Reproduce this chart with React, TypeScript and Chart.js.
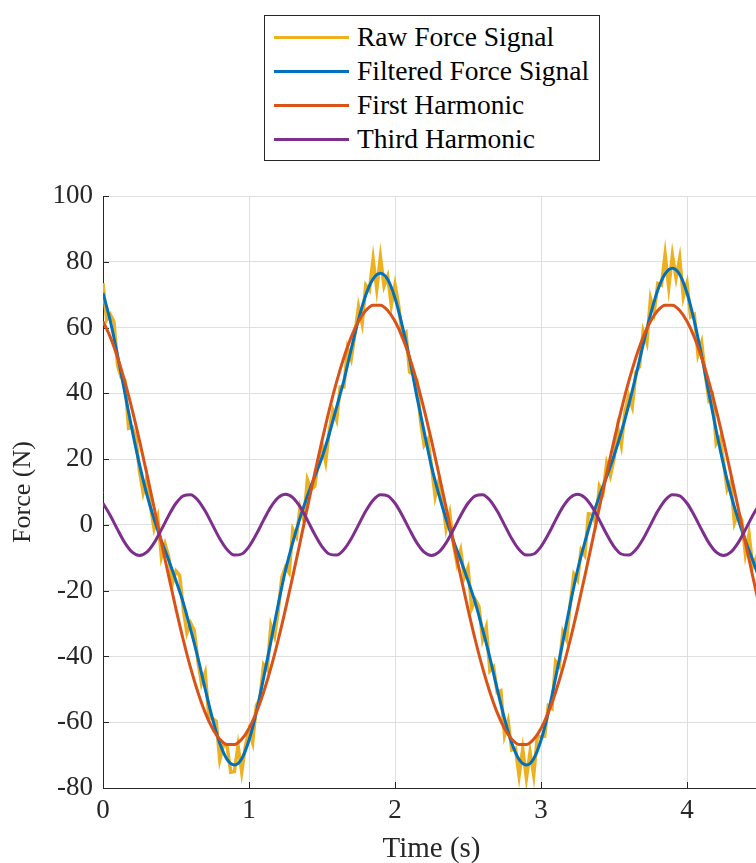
import React, { useEffect, useRef } from "react";
import { Chart, registerables } from "chart.js";

Chart.register(...registerables);

// ---- Data ----
const timeSmooth = [
  0, 0.05, 0.1, 0.15, 0.2, 0.25, 0.3, 0.35, 0.4, 0.45,
  0.5, 0.55, 0.6, 0.65, 0.7, 0.75, 0.8, 0.85, 0.9, 0.95,
  1, 1.05, 1.1, 1.15, 1.2, 1.25, 1.3, 1.35, 1.4, 1.45,
  1.5, 1.55, 1.6, 1.65, 1.7, 1.75, 1.8, 1.85, 1.9, 1.95,
  2, 2.05, 2.1, 2.15, 2.2, 2.25, 2.3, 2.35, 2.4, 2.45,
  2.5, 2.55, 2.6, 2.65, 2.7, 2.75, 2.8, 2.85, 2.9, 2.95,
  3, 3.05, 3.1, 3.15, 3.2, 3.25, 3.3, 3.35, 3.4, 3.45,
  3.5, 3.55, 3.6, 3.65, 3.7, 3.75, 3.8, 3.85, 3.9, 3.95,
  4, 4.05, 4.1, 4.15, 4.2, 4.25, 4.3, 4.35, 4.4, 4.45,
  4.5,
];

const filteredForce = [
  70.5, 62.0, 51.5, 40.0, 28.7, 18.3, 9.3, 1.8, -4.8, -10.7,
  -17.0, -23.7, -31.8, -40.4, -49.9, -58.9, -66.4, -71.3, -73.0, -71.1,
  -65.5, -57.0, -46.5, -35.5, -24.2, -13.8, -5.3, 2.2, 8.8, 14.7,
  20.5, 27.7, 35.8, 43.9, 53.4, 62.4, 69.9, 74.8, 76.5, 74.6,
  69.0, 60.5, 50.5, 39.0, 28.2, 17.8, 9.3, 1.8, -4.8, -10.7,
  -17.0, -23.7, -31.8, -40.4, -49.9, -58.9, -66.4, -71.3, -73.0, -71.1,
  -65.5, -57.0, -46.5, -35.5, -24.2, -13.8, -5.3, 2.2, 8.8, 14.7,
  21.0, 28.2, 36.3, 45.4, 54.9, 63.9, 71.4, 76.3, 78.0, 76.1,
  70.5, 62.0, 51.5, 40.0, 28.7, 18.3, 9.3, 1.8, -4.8, -10.7,
  -17.0,
];

const firstHarmonic = [
  61.9, 57.1, 50.9, 43.5, 35.0, 25.6, 15.6, 5.3, -5.3, -15.6,
  -25.6, -35.0, -43.5, -50.9, -57.1, -61.9, -65.2, -66.8, -66.8, -65.2,
  -61.9, -57.1, -50.9, -43.5, -35.0, -25.6, -15.6, -5.3, 5.3, 15.6,
  25.6, 35.0, 43.5, 50.9, 57.1, 61.9, 65.2, 66.8, 66.8, 65.2,
  61.9, 57.1, 50.9, 43.5, 35.0, 25.6, 15.6, 5.3, -5.3, -15.6,
  -25.6, -35.0, -43.5, -50.9, -57.1, -61.9, -65.2, -66.8, -66.8, -65.2,
  -61.9, -57.1, -50.9, -43.5, -35.0, -25.6, -15.6, -5.3, 5.3, 15.6,
  25.6, 35.0, 43.5, 50.9, 57.1, 61.9, 65.2, 66.8, 66.8, 65.2,
  61.9, 57.1, 50.9, 43.5, 35.0, 25.6, 15.6, 5.3, -5.3, -15.6,
  -25.6,
];

const thirdHarmonic = [
  6.58, 2.87, -1.45, -5.47, -8.29, -9.3, -8.29, -5.47, -1.45, 2.87,
  6.58, 8.85, 9.19, 7.52, 4.22, 0, -4.22, -7.52, -9.19, -8.85,
  -6.58, -2.87, 1.45, 5.47, 8.29, 9.3, 8.29, 5.47, 1.45, -2.87,
  -6.58, -8.85, -9.19, -7.52, -4.22, 0, 4.22, 7.52, 9.19, 8.85,
  6.58, 2.87, -1.45, -5.47, -8.29, -9.3, -8.29, -5.47, -1.45, 2.87,
  6.58, 8.85, 9.19, 7.52, 4.22, 0, -4.22, -7.52, -9.19, -8.85,
  -6.58, -2.87, 1.45, 5.47, 8.29, 9.3, 8.29, 5.47, 1.45, -2.87,
  -6.58, -8.85, -9.19, -7.52, -4.22, 0, 4.22, 7.52, 9.19, 8.85,
  6.58, 2.87, -1.45, -5.47, -8.29, -9.3, -8.29, -5.47, -1.45, 2.87,
  6.58,
];

const timeRaw = [
  0, 0.025, 0.05, 0.075, 0.1, 0.125, 0.15, 0.175, 0.2, 0.225,
  0.25, 0.275, 0.3, 0.325, 0.35, 0.375, 0.4, 0.425, 0.45, 0.475,
  0.5, 0.525, 0.55, 0.575, 0.6, 0.625, 0.65, 0.675, 0.7, 0.725,
  0.75, 0.775, 0.8, 0.825, 0.85, 0.875, 0.9, 0.925, 0.95, 0.975,
  1, 1.025, 1.05, 1.075, 1.1, 1.125, 1.15, 1.175, 1.2, 1.225,
  1.25, 1.275, 1.3, 1.325, 1.35, 1.375, 1.4, 1.425, 1.45, 1.475,
  1.5, 1.525, 1.55, 1.575, 1.6, 1.625, 1.65, 1.675, 1.7, 1.725,
  1.75, 1.775, 1.8, 1.825, 1.85, 1.875, 1.9, 1.925, 1.95, 1.975,
  2, 2.025, 2.05, 2.075, 2.1, 2.125, 2.15, 2.175, 2.2, 2.225,
  2.25, 2.275, 2.3, 2.325, 2.35, 2.375, 2.4, 2.425, 2.45, 2.475,
  2.5, 2.525, 2.55, 2.575, 2.6, 2.625, 2.65, 2.675, 2.7, 2.725,
  2.75, 2.775, 2.8, 2.825, 2.85, 2.875, 2.9, 2.925, 2.95, 2.975,
  3, 3.025, 3.05, 3.075, 3.1, 3.125, 3.15, 3.175, 3.2, 3.225,
  3.25, 3.275, 3.3, 3.325, 3.35, 3.375, 3.4, 3.425, 3.45, 3.475,
  3.5, 3.525, 3.55, 3.575, 3.6, 3.625, 3.65, 3.675, 3.7, 3.725,
  3.75, 3.775, 3.8, 3.825, 3.85, 3.875, 3.9, 3.925, 3.95, 3.975,
  4, 4.025, 4.05, 4.075, 4.1, 4.125, 4.15, 4.175, 4.2, 4.225,
  4.25, 4.275, 4.3, 4.325, 4.35, 4.375, 4.4, 4.425, 4.45, 4.475,
  4.5,
];

const rawForce = [
  73.5, 62.3, 64.0, 61.8, 48.5, 44.8, 44.0, 29.4, 29.7, 26.5,
  16.3, 9.8, 14.3, 5.6, -1.2, 2.5, -9.8, -5.8, -9.7, -17.9,
  -14.0, -15.4, -25.7, -32.8, -29.8, -32.1, -41.4, -48.2, -44.9, -58.4,
  -58.9, -59.7, -71.4, -66.9, -67.3, -75.2, -75.0, -67.1, -75.1, -67.3,
  -62.5, -66.3, -55.0, -52.8, -42.5, -44.0, -30.5, -33.9, -26.2, -16.0,
  -12.8, -14.6, -1.3, -3.6, 5.2, 1.5, 13.8, 10.8, 11.7, 19.6,
  24.5, 19.1, 28.7, 34.8, 31.8, 41.9, 41.9, 53.7, 50.4, 57.9,
  66.4, 61.2, 72.9, 71.4, 80.8, 71.7, 81.5, 72.6, 75.6, 66.8,
  73.0, 66.8, 57.5, 58.5, 46.5, 45.8, 44.0, 31.6, 24.2, 26.0,
  17.8, 8.6, 13.3, 7.6, -1.2, 3.5, -5.8, -11.8, -7.7, -15.9,
  -13.0, -25.4, -22.7, -24.8, -34.8, -31.1, -44.4, -43.2, -50.9, -50.4,
  -63.9, -59.7, -68.4, -67.9, -76.3, -68.2, -77.0, -69.1, -76.1, -64.3,
  -64.5, -64.3, -55.0, -55.8, -41.5, -43.0, -32.5, -34.9, -24.2, -15.0,
  -16.8, -7.6, -9.3, 3.4, 3.2, 0.5, 11.8, 9.8, 18.7, 14.9,
  20.0, 29.6, 24.2, 34.3, 39.3, 35.9, 46.4, 48.2, 58.9, 55.4,
  68.9, 64.7, 73.4, 72.9, 82.3, 72.2, 82.0, 75.1, 81.1, 69.3,
  73.5, 63.3, 64.0, 51.8, 55.5, 45.8, 38.0, 39.4, 24.7, 26.5,
  19.3, 10.8, 13.3, 0.6, 3.8, 1.5, -8.8, -2.8, -12.7, -9.9,
  -20.0,
];

const seriesLabels = ["Raw Force Signal", "Filtered Force Signal", "First Harmonic", "Third Harmonic"];
const seriesColors = ["#EDB120", "#0072BD", "#D95319", "#7E2F8E"];

const xTickValues = [0, 1, 2, 3, 4];
const yTickValues = [-80, -60, -40, -20, 0, 20, 40, 60, 80, 100];

const FONT = '"Liberation Serif", "Times New Roman", serif';
const AXIS_COLOR = "#262626";
const GRID_COLOR = "#dfdfdf";

const toPoints = (xs: number[], ys: number[]) => xs.map((x, i) => ({ x, y: ys[i] }));

const innerTicks = {
  id: "innerTicks",
  beforeDatasetsDraw(chart: any) {
    const { ctx, chartArea, scales } = chart;
    const x = scales.x;
    const y = scales.y;
    ctx.save();
    ctx.strokeStyle = AXIS_COLOR;
    ctx.lineWidth = 1;
    x.ticks.forEach((t: any) => {
      const px = Math.round(x.getPixelForValue(t.value)) + 0.5;
      ctx.beginPath();
      ctx.moveTo(px, chartArea.bottom);
      ctx.lineTo(px, chartArea.bottom - 6);
      ctx.stroke();
    });
    y.ticks.forEach((t: any) => {
      const py = Math.round(y.getPixelForValue(t.value)) + 0.5;
      ctx.beginPath();
      ctx.moveTo(chartArea.left, py);
      ctx.lineTo(chartArea.left + 6, py);
      ctx.stroke();
    });
    ctx.restore();
  },
};

export default function App() {
  const canvasRef = useRef<HTMLCanvasElement | null>(null);

  useEffect(() => {
    if (!canvasRef.current) return;
    const chart = new Chart(canvasRef.current, {
      type: "line",
      data: {
        datasets: [
          {
            label: seriesLabels[0],
            data: toPoints(timeRaw, rawForce),
            borderColor: seriesColors[0],
            borderWidth: 3.5,
            tension: 0,
            pointRadius: 0,
            order: 4,
          },
          {
            label: seriesLabels[1],
            data: toPoints(timeSmooth, filteredForce),
            borderColor: seriesColors[1],
            borderWidth: 3,
            cubicInterpolationMode: "monotone",
            pointRadius: 0,
            order: 3,
          },
          {
            label: seriesLabels[2],
            data: toPoints(timeSmooth, firstHarmonic),
            borderColor: seriesColors[2],
            borderWidth: 3,
            cubicInterpolationMode: "monotone",
            pointRadius: 0,
            order: 2,
          },
          {
            label: seriesLabels[3],
            data: toPoints(timeSmooth, thirdHarmonic),
            borderColor: seriesColors[3],
            borderWidth: 3,
            cubicInterpolationMode: "monotone",
            pointRadius: 0,
            order: 1,
          },
        ],
      },
      options: {
        responsive: false,
        animation: false,
        devicePixelRatio: 1,
        layout: { padding: { top: 196, right: 0, bottom: 0, left: 0 } },
        plugins: { legend: { display: false }, tooltip: { enabled: false } },
        scales: {
          x: {
            type: "linear",
            min: 0,
            max: 4.5,
            afterBuildTicks: (scale: any) => {
              scale.ticks = xTickValues.map((v) => ({ value: v }));
            },
            afterFit: (scale: any) => {
              scale.height = 75;
            },
            ticks: {
              padding: 7,
              color: AXIS_COLOR,
              font: { family: FONT, size: 27 },
              maxRotation: 0,
              callback: (v: any) => String(v),
            },
            grid: { color: GRID_COLOR, lineWidth: 1, drawTicks: false },
            border: { display: true, color: AXIS_COLOR, width: 1 },
            title: {
              display: true,
              text: "Time (s)",
              color: AXIS_COLOR,
              font: { family: FONT, size: 29, lineHeight: 1 },
              padding: { top: 0, bottom: -1 },
            },
          },
          y: {
            type: "linear",
            min: -80,
            max: 100,
            afterBuildTicks: (scale: any) => {
              scale.ticks = yTickValues.map((v) => ({ value: v }));
            },
            afterFit: (scale: any) => {
              scale.width = 103;
            },
            ticks: {
              padding: 10,
              color: AXIS_COLOR,
              font: { family: FONT, size: 27 },
              callback: (v: any) => String(v),
            },
            grid: { color: GRID_COLOR, lineWidth: 1, drawTicks: false },
            border: { display: true, color: AXIS_COLOR, width: 1 },
            title: {
              display: true,
              text: "Force (N)",
              color: AXIS_COLOR,
              font: { family: FONT, size: 26, lineHeight: 1 },
              padding: { top: 10, bottom: 0 },
            },
          },
        },
      },
      plugins: [innerTicks],
    } as any);
    return () => chart.destroy();
  }, []);

  return (
    <div
      style={{
        position: "fixed",
        left: 0,
        top: 0,
        width: 756,
        height: 863,
        overflow: "hidden",
        background: "#fff",
      }}
    >
      <canvas ref={canvasRef} width={760} height={863} style={{ display: "block" }} />
      <div
        style={{
          position: "absolute",
          left: 264,
          top: 15,
          width: 334,
          height: 144,
          border: "1px solid " + AXIS_COLOR,
          background: "#fff",
          fontFamily: FONT,
          fontSize: 27.5,
          color: "#000",
        }}
      >
        {seriesLabels.map((label, i) => (
          <div
            key={label}
            style={{
              position: "absolute",
              left: 9,
              top: 4 + i * 34,
              height: 34,
              display: "flex",
              alignItems: "center",
              whiteSpace: "nowrap",
            }}
          >
            <span style={{ display: "inline-block", width: 75, height: 3, background: seriesColors[i] }} />
            <span style={{ marginLeft: 8, lineHeight: "34px" }}>{label}</span>
          </div>
        ))}
      </div>
    </div>
  );
}
